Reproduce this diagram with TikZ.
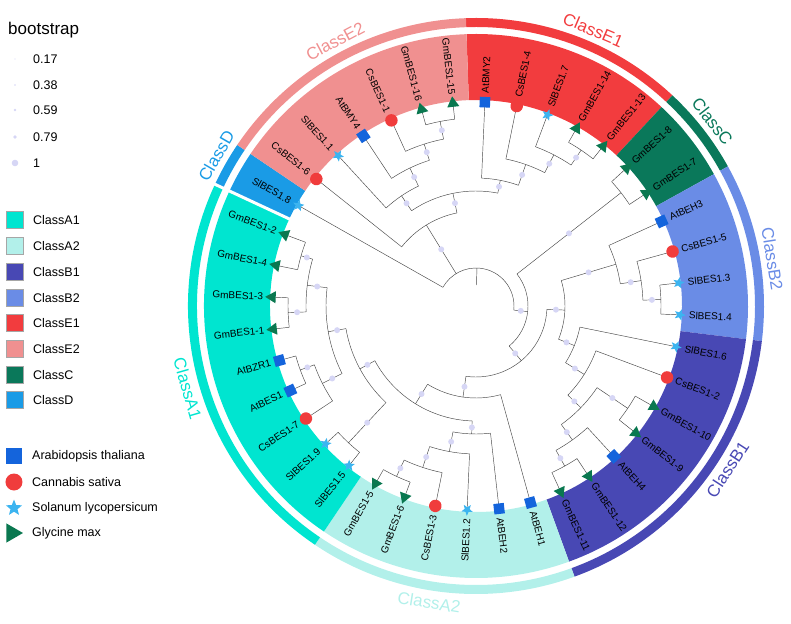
\documentclass[tikz,border=0pt]{standalone}
\usepackage{fontspec}
\setmainfont{Liberation Sans}
\usetikzlibrary{shapes.geometric}

\definecolor{cA1}{RGB}{0,229,208}
\definecolor{cA2}{RGB}{178,240,234}
\definecolor{cB1}{RGB}{72,72,180}
\definecolor{cB2}{RGB}{106,140,230}
\definecolor{cE1}{RGB}{242,60,62}
\definecolor{cE2}{RGB}{240,144,144}
\definecolor{cC}{RGB}{10,120,90}
\definecolor{cD}{RGB}{26,155,230}
\definecolor{cAth}{RGB}{20,100,220}
\definecolor{cCsa}{RGB}{240,60,60}
\definecolor{cSly}{RGB}{60,180,240}
\definecolor{cGma}{RGB}{10,120,80}
\definecolor{bubble}{RGB}{214,214,245}
\definecolor{branchgray}{RGB}{70,70,70}

% sector of a ring: colour, from angle, to angle, inner r, outer r
\newcommand{\classband}[5]{%
  \fill[#1] (#2:#4) arc[start angle=#2, end angle=#3, radius=#4]
    -- (#3:#5) arc[start angle=#3, end angle=#2, radius=#5] -- cycle;}

% internal node: radius, child angles, parent radius
\newcommand{\clade}[4]{%
  \pgfmathsetmacro\cmid{(#2+#3)/2}
  \draw[branch] (#2:#1) arc[start angle=#2, end angle=#3, radius=#1];
  \draw[branch] (\cmid:#4) -- (\cmid:#1);
  \fill[bubble] ({\cmid}:{(#1+#4)/2}) circle (3);}

\tikzset{
  branch/.style={draw=branchgray, line width=0.45pt},
  ath/.style={rectangle, fill=cAth, minimum size=10.5pt, inner sep=0pt},
  csa/.style={circle, fill=cCsa, minimum size=12.5pt, inner sep=0pt},
  sly/.style={star, star points=5, star point ratio=2.3, fill=cSly, minimum size=12pt, inner sep=0pt},
  gma/.style={regular polygon, regular polygon sides=3, fill=cGma, minimum size=14pt, inner sep=0pt},
  leaftext/.style={font=\fontsize{10}{12}\selectfont, inner sep=1pt},
  classtext/.style={font=\fontsize{17}{20}\selectfont},
  legtext/.style={font=\fontsize{12.5}{15}\selectfont, anchor=west, inner sep=0pt}
}

\begin{document}
\begin{tikzpicture}[x=1pt, y=1pt]
\useasboundingbox (-476,-317) rectangle (315,306);

% coloured bands behind the labels
\classband{cE1}{92}{47}{206}{272}
\classband{cC}{47}{29}{206}{272}
\classband{cB2}{29}{-7}{206}{272}
\classband{cB1}{-7}{-70}{206}{272}
\classband{cA2}{-70}{-124}{206}{272}
\classband{cA1}{-124}{-205}{206}{272}
\classband{cD}{155}{146}{206}{272}
\classband{cE2}{146}{92}{206}{272}

% outer ring
\classband{cE1}{92}{47}{279}{288}
\classband{cC}{47}{29}{279}{288}
\classband{cB2}{29}{-7}{279}{288}
\classband{cB1}{-7}{-70}{279}{288}
\classband{cA2}{-70}{-124}{279}{288}
\classband{cA1}{-124}{-205}{279}{288}
\classband{cD}{155}{146}{279}{288}
\classband{cE2}{146}{92}{279}{288}
\draw[white, line width=3pt] (155:200) -- (155:292);

% class names
\foreach \nm/\ang/\col in {ClassE1/67/cE1, ClassE2/118/cE2, ClassD/150/cD, ClassA1/-164/cA1,
    ClassA2/-99/cA2, ClassB1/-33/cB1, ClassB2/9/cB2, ClassC/38/cC}{
  \pgfmathsetmacro\sinv{sin(\ang)}
  \ifdim\sinv pt>0pt
    \node[classtext, text=\col, rotate=\ang-90] (lab\nm) at (\ang:300) {\nm};
  \else
    \node[classtext, text=\col, rotate=\ang+90] (lab\nm) at (\ang:300) {\nm};
  \fi
}

% class E
\clade{188}{96.5}{105.5}{170}
\clade{170}{101}{114.5}{153}
\clade{153}{107.75}{123.5}{133}
\clade{133}{115.625}{132.5}{115}
\clade{188}{51.5}{60.5}{170}
\clade{170}{56}{69.5}{150}
\clade{150}{62.75}{78.5}{128}
\clade{128}{70.625}{87.5}{115}
\clade{115}{79.06}{124.06}{95}
\clade{95}{101.56}{141.5}{38}

% classes C and B
\clade{184}{33.5}{42.5}{52}
\clade{185}{-2.5}{6.5}{167}
\clade{167}{2}{15.5}{146}
\clade{146}{8.75}{24.5}{89}
\clade{183}{-65.5}{-56.5}{165}
\clade{165}{-61}{-47.5}{146}
\clade{183}{-38.5}{-29.5}{146}
\clade{146}{-54.25}{-34}{128}
\clade{128}{-44.125}{-20.5}{106}
\clade{106}{-32.31}{-11.5}{89}
\clade{89}{-21.91}{16.625}{71}

% class A
\clade{188}{-119.5}{-110.5}{170}
\clade{170}{-115}{-101.5}{148}
\clade{148}{-108.25}{-92.5}{128}
\clade{128}{-100.375}{-83.5}{115}
\clade{182}{-200.5}{-191.5}{170}
\clade{188}{-182.5}{-173.5}{170}
\clade{170}{-196}{-178}{150}
\clade{187}{-164.5}{-155.5}{172}
\clade{172}{-160}{-146.5}{150}
\clade{150}{-187}{-153.25}{132}
\clade{187}{-137.5}{-128.5}{132}
\clade{132}{-170.125}{-133}{115}
\clade{115}{-151.56}{-91.94}{92}
\clade{92}{-121.75}{-74.5}{71}
\clade{71}{-98.125}{-2.64}{52}
\clade{52}{-50.38}{38}{38}

% root
\draw[branch] (-6.19:38) arc[start angle=-6.19, end angle=150.5, radius=38];
\draw[branch] (88.6:21) -- (88.6:38);

% leaves
\foreach \k/\lab/\spc/\rp in {0/AtBMY2/ath/128, 1/CsBES1-4/csa/150, 2/SlBES1.7/sly/170,
    3/GmBES1-14/gma/188, 4/GmBES1-13/gma/188, 5/GmBES1-8/gma/184, 6/GmBES1-7/gma/184,
    7/AtBEH3/ath/146, 8/CsBES1-5/csa/167, 9/SlBES1.3/sly/185, 10/SlBES1.4/sly/185,
    11/SlBES1.6/sly/106, 12/CsBES1-2/csa/128, 13/GmBES1-10/gma/183, 14/GmBES1-9/gma/183,
    15/AtBEH4/ath/165, 16/GmBES1-12/gma/183, 17/GmBES1-11/gma/183, 18/AtBEH1/ath/92,
    19/AtBEH2/ath/128, 20/SlBES1.2/sly/148, 21/CsBES1-3/csa/170, 22/GmBES1-6/gma/188,
    23/GmBES1-5/gma/188, 24/SlBES1.5/sly/187, 25/SlBES1.9/sly/187, 26/CsBES1-7/csa/172,
    27/AtBES1/ath/187, 28/AtBZR1/ath/187, 29/GmBES1-1/gma/188, 30/GmBES1-3/gma/188,
    31/GmBES1-4/gma/182, 32/GmBES1-2/gma/182, 33/SlBES1.8/sly/38, 34/CsBES1-6/csa/95,
    35/SlBES1.1/sly/133, 36/AtBMY4/ath/153, 37/CsBES1-1/csa/170, 38/GmBES1-16/gma/188,
    39/GmBES1-15/gma/188}{
  \pgfmathsetmacro\ang{87.5-9*\k+360*(\k>32)}
  \draw[branch] (\ang:\rp) -- (\ang:204);
  \node[\spc, rotate=\ang-90] (leaf\k) at (\ang:204) {};
  \pgfmathsetmacro\cosv{cos(\ang)}
  \ifdim\cosv pt>0pt
    \node[leaftext, anchor=west, rotate=\ang] (tip\k) at (\ang:212) {\lab};
  \else
    \node[leaftext, anchor=east, rotate=\ang-180] (tip\k) at (\ang:212) {\lab};
  \fi
}

% legend: bootstrap
\node[legtext, font=\fontsize{17}{20}\selectfont] (bstitle) at (-468,276) {bootstrap};
\foreach \v/\y/\s in {0.17/247/0.6, 0.38/221/0.9, 0.59/196/1.4, 0.79/169/1.9, 1/143/3.3}{
  \fill[bubble] (-461,\y) circle (\s);
  \node[legtext] (bs\v) at (-443,\y) {\v};
}

% legend: classes
\foreach \nm/\y/\col in {ClassA1/86/cA1, ClassA2/60/cA2, ClassB1/34/cB1, ClassB2/8/cB2,
    ClassE1/-17/cE1, ClassE2/-43/cE2, ClassC/-69/cC, ClassD/-94/cD}{
  \node[rectangle, fill=\col, draw=gray!70, minimum size=17pt, inner sep=0pt] (key\nm) at (-461,\y) {};
  \node[legtext] (keytext\nm) at (-443,\y) {\nm};
}

% legend: species
\node[ath, minimum size=16pt] (keyath) at (-462,-150) {};
\node[legtext] (keyathtext) at (-444,-150) {Arabidopsis thaliana};
\node[csa, minimum size=17pt] (keycsa) at (-462,-176) {};
\node[legtext] (keycsatext) at (-444,-176) {Cannabis sativa};
\node[sly, minimum size=17pt, rotate=0] (keysly) at (-462,-202) {};
\node[legtext] (keyslytext) at (-444,-202) {Solanum lycopersicum};
\node[gma, minimum size=22pt, rotate=-90] (keygma) at (-464,-227) {};
\node[legtext] (keygmatext) at (-444,-227) {Glycine max};

\end{tikzpicture}
\end{document}
